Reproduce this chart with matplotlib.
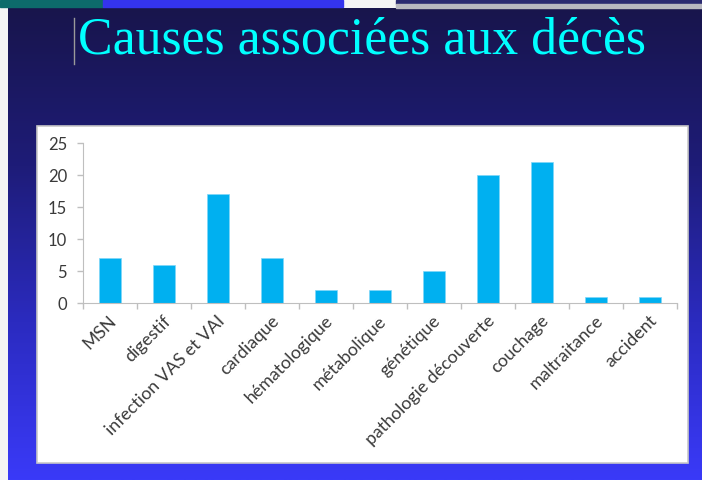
import numpy as np
import matplotlib
matplotlib.use("Agg")
import matplotlib.pyplot as plt
from matplotlib.patches import Rectangle
from matplotlib.colors import LinearSegmentedColormap

# data
causes = ["MSN", "digestif", "infection VAS et VAI", "cardiaque", "hématologique",
          "métabolique", "génétique", "pathologie découverte", "couchage",
          "maltraitance", "accident"]
deces = [7, 6, 17, 7, 2, 2, 5, 20, 22, 1, 1]
yticks = [0, 5, 10, 15, 20, 25]

W, H = 702, 480
fig = plt.figure(figsize=(W / 100, H / 100), dpi=100)

# slide background (pixel coordinates)
bg = fig.add_axes([0, 0, 1, 1])
bg.set_xlim(0, W)
bg.set_ylim(H, 0)
bg.axis("off")
bg.add_patch(Rectangle((0, 0), W, H, color="#f4f4f4"))
grad = LinearSegmentedColormap.from_list("slide", ["#18154c", "#1e1c78", "#2b2bc0", "#3a3af8"])
bg.imshow(np.linspace(0, 1, 256)[:, None], cmap=grad, aspect="auto",
          extent=(8, W, H, 8), zorder=1)
# top strip
bg.add_patch(Rectangle((0, 0), 103, 7, color="#0d6b6b", zorder=2))
bg.add_patch(Rectangle((103, 0), 240, 7, color="#3434ee", zorder=2))
bg.add_patch(Rectangle((396, 0), W - 396, 4, color="#2a2a70", zorder=2))
bg.add_patch(Rectangle((396, 4), W - 396, 4, color="#b8b8c0", zorder=2))
# chart box
bg.add_patch(Rectangle((37, 126), 651, 337, facecolor="white", edgecolor="#c8c8c8",
                       lw=1.2, zorder=3))
# title + cursor
bg.text(362, 54, "Causes associées aux décès", family="Liberation Serif",
        fontsize=37.4, color="#00ffff", ha="center", va="baseline", zorder=4)
bg.plot([74, 74], [18, 64], color="#9a9a9a", lw=1, zorder=4)

# chart
x0, x1, y0, y1 = 83, 677, 303, 143
ax = fig.add_axes([x0 / W, 1 - y0 / H, (x1 - x0) / W, (y0 - y1) / H])
ax.patch.set_alpha(0)
pos = np.arange(len(causes))
ax.bar(pos, deces, width=0.41, color="#00b0f0", edgecolor="#7fd6f8", lw=0.5)
ax.set_xlim(-0.5, len(causes) - 0.5)
ax.set_ylim(0, 25)
ax.set_yticks(yticks)
ax.set_xticks(np.arange(len(causes) + 1) - 0.5)
ax.set_xticklabels([])
for s in ["top", "right"]:
    ax.spines[s].set_visible(False)
for s in ["left", "bottom"]:
    ax.spines[s].set_color("#bfbfbf")
ax.tick_params(colors="#bfbfbf", length=4.5, width=1)
ax.tick_params(axis="y", labelcolor="#3a3a3a", labelsize=12, pad=7)
for lab in ax.get_yticklabels():
    lab.set_family("Lato")

for p, name in zip(pos, causes):
    ax.annotate(name, (p, 0), xytext=(3, -11), textcoords="offset points",
                rotation=45, rotation_mode="anchor", ha="right", va="center",
                family="Lato", fontsize=12.8, color="#3a3a3a", xycoords="data")

fig.savefig("out.png", dpi=100)
